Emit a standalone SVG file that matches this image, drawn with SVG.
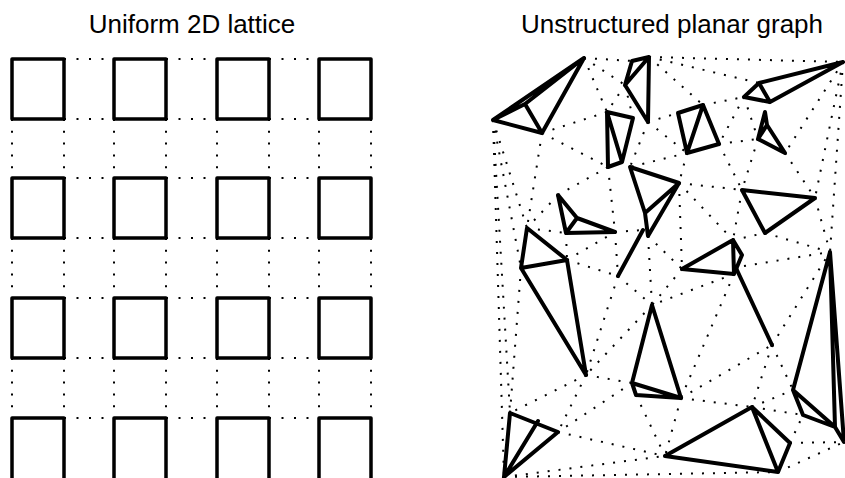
<svg xmlns="http://www.w3.org/2000/svg" width="845" height="478" viewBox="0 0 845 478">
<style>
.title{font-family:"Liberation Sans",Arial,sans-serif;font-size:26px;fill:#000;text-anchor:middle}
.sq{fill:none;stroke:#000;stroke-width:3.5;stroke-linejoin:round;stroke-linecap:round}
.ld{stroke:#000;stroke-width:2;fill:none}
.lh{stroke-dasharray:2 10.5}
.lv{stroke-dasharray:2 9.8}
.tri{fill:none;stroke:#000;stroke-width:4;stroke-linejoin:round;stroke-linecap:round}
.dot{stroke:#000;stroke-width:2;fill:none;stroke-dasharray:2 9}
</style>
<rect width="845" height="478" fill="#fff"/>
<text class="title" x="192" y="33">Uniform 2D lattice</text>
<text class="title" x="672" y="33">Unstructured planar graph</text>

<g id="lattice-connectors">
<g class="ld lh">
<line x1="64" y1="59" x2="114" y2="59"/><line x1="166" y1="59" x2="217" y2="59"/><line x1="269" y1="59" x2="319" y2="59"/>
<line x1="64" y1="119" x2="114" y2="119"/><line x1="166" y1="119" x2="217" y2="119"/><line x1="269" y1="119" x2="319" y2="119"/>
<line x1="64" y1="178" x2="114" y2="178"/><line x1="166" y1="178" x2="217" y2="178"/><line x1="269" y1="178" x2="319" y2="178"/>
<line x1="64" y1="238" x2="114" y2="238"/><line x1="166" y1="238" x2="217" y2="238"/><line x1="269" y1="238" x2="319" y2="238"/>
<line x1="64" y1="298" x2="114" y2="298"/><line x1="166" y1="298" x2="217" y2="298"/><line x1="269" y1="298" x2="319" y2="298"/>
<line x1="64" y1="358" x2="114" y2="358"/><line x1="166" y1="358" x2="217" y2="358"/><line x1="269" y1="358" x2="319" y2="358"/>
<line x1="64" y1="418" x2="114" y2="418"/><line x1="166" y1="418" x2="217" y2="418"/><line x1="269" y1="418" x2="319" y2="418"/>
</g>
<g class="ld lv">
<line x1="12" y1="119" x2="12" y2="178"/><line x1="64" y1="119" x2="64" y2="178"/><line x1="114" y1="119" x2="114" y2="178"/><line x1="166" y1="119" x2="166" y2="178"/><line x1="217" y1="119" x2="217" y2="178"/><line x1="269" y1="119" x2="269" y2="178"/><line x1="319" y1="119" x2="319" y2="178"/><line x1="371" y1="119" x2="371" y2="178"/>
<line x1="12" y1="238" x2="12" y2="298"/><line x1="64" y1="238" x2="64" y2="298"/><line x1="114" y1="238" x2="114" y2="298"/><line x1="166" y1="238" x2="166" y2="298"/><line x1="217" y1="238" x2="217" y2="298"/><line x1="269" y1="238" x2="269" y2="298"/><line x1="319" y1="238" x2="319" y2="298"/><line x1="371" y1="238" x2="371" y2="298"/>
<line x1="12" y1="358" x2="12" y2="418"/><line x1="64" y1="358" x2="64" y2="418"/><line x1="114" y1="358" x2="114" y2="418"/><line x1="166" y1="358" x2="166" y2="418"/><line x1="217" y1="358" x2="217" y2="418"/><line x1="269" y1="358" x2="269" y2="418"/><line x1="319" y1="358" x2="319" y2="418"/><line x1="371" y1="358" x2="371" y2="418"/>
</g>
</g>

<g id="sq-r1c1"><rect class="sq" x="12" y="59" width="52" height="60"/></g>
<g id="sq-r1c2"><rect class="sq" x="114" y="59" width="52" height="60"/></g>
<g id="sq-r1c3"><rect class="sq" x="217" y="59" width="52" height="60"/></g>
<g id="sq-r1c4"><rect class="sq" x="319" y="59" width="52" height="60"/></g>
<g id="sq-r2c1"><rect class="sq" x="12" y="178" width="52" height="60"/></g>
<g id="sq-r2c2"><rect class="sq" x="114" y="178" width="52" height="60"/></g>
<g id="sq-r2c3"><rect class="sq" x="217" y="178" width="52" height="60"/></g>
<g id="sq-r2c4"><rect class="sq" x="319" y="178" width="52" height="60"/></g>
<g id="sq-r3c1"><rect class="sq" x="12" y="298" width="52" height="60"/></g>
<g id="sq-r3c2"><rect class="sq" x="114" y="298" width="52" height="60"/></g>
<g id="sq-r3c3"><rect class="sq" x="217" y="298" width="52" height="60"/></g>
<g id="sq-r3c4"><rect class="sq" x="319" y="298" width="52" height="60"/></g>
<g id="sq-r4c1"><path class="sq" d="M12,482 L12,418 L64,418 L64,482"/></g>
<g id="sq-r4c2"><path class="sq" d="M114,482 L114,418 L166,418 L166,482"/></g>
<g id="sq-r4c3"><path class="sq" d="M217,482 L217,418 L269,418 L269,482"/></g>
<g id="sq-r4c4"><path class="sq" d="M319,482 L319,418 L371,418 L371,482"/></g>

<g id="graph-connectors" class="dot">
<line x1="584" y1="58" x2="632" y2="61"/>
<line x1="649" y1="57" x2="843" y2="62"/>
<line x1="584" y1="58" x2="607" y2="112"/>
<line x1="584" y1="58" x2="625" y2="85"/>
<line x1="625" y1="85" x2="607" y2="112"/>
<line x1="625" y1="85" x2="633" y2="118"/>
<line x1="542" y1="133" x2="607" y2="112"/>
<line x1="542" y1="133" x2="608" y2="167"/>
<line x1="542" y1="133" x2="527" y2="228"/>
<line x1="493" y1="120" x2="527" y2="228"/>
<line x1="493" y1="120" x2="521" y2="268"/>
<line x1="493" y1="120" x2="510" y2="413"/>
<line x1="493" y1="120" x2="504" y2="477"/>
<line x1="649" y1="57" x2="703" y2="105"/>
<line x1="649" y1="57" x2="759" y2="83"/>
<line x1="703" y1="105" x2="744" y2="97"/>
<line x1="744" y1="97" x2="719" y2="144"/>
<line x1="744" y1="97" x2="758" y2="139"/>
<line x1="719" y1="144" x2="758" y2="139"/>
<line x1="719" y1="144" x2="742" y2="190"/>
<line x1="758" y1="139" x2="742" y2="190"/>
<line x1="648" y1="122" x2="678" y2="113"/>
<line x1="648" y1="122" x2="630" y2="167"/>
<line x1="648" y1="122" x2="687" y2="153"/>
<line x1="687" y1="153" x2="630" y2="167"/>
<line x1="687" y1="153" x2="679" y2="183"/>
<line x1="770" y1="102" x2="765" y2="112"/>
<line x1="843" y1="62" x2="785" y2="153"/>
<line x1="843" y1="62" x2="815" y2="198"/>
<line x1="785" y1="153" x2="815" y2="198"/>
<line x1="843" y1="62" x2="830" y2="252"/>
<line x1="608" y1="167" x2="615" y2="232"/>
<line x1="558" y1="195" x2="608" y2="167"/>
<line x1="558" y1="195" x2="527" y2="228"/>
<line x1="527" y1="228" x2="566" y2="233"/>
<line x1="566" y1="233" x2="567" y2="260"/>
<line x1="567" y1="260" x2="615" y2="232"/>
<line x1="567" y1="260" x2="618" y2="276"/>
<line x1="615" y1="232" x2="618" y2="276"/>
<line x1="615" y1="232" x2="643" y2="230"/>
<line x1="648" y1="236" x2="652" y2="305"/>
<line x1="648" y1="236" x2="682" y2="269"/>
<line x1="618" y1="276" x2="652" y2="305"/>
<line x1="618" y1="276" x2="586" y2="375"/>
<line x1="679" y1="183" x2="742" y2="190"/>
<line x1="679" y1="183" x2="682" y2="269"/>
<line x1="679" y1="183" x2="733" y2="240"/>
<line x1="742" y1="190" x2="733" y2="240"/>
<line x1="733" y1="240" x2="765" y2="233"/>
<line x1="765" y1="233" x2="830" y2="252"/>
<line x1="815" y1="198" x2="830" y2="252"/>
<line x1="744" y1="266" x2="830" y2="252"/>
<line x1="772" y1="345" x2="830" y2="252"/>
<line x1="682" y1="269" x2="652" y2="305"/>
<line x1="734" y1="274" x2="652" y2="305"/>
<line x1="734" y1="274" x2="681" y2="398"/>
<line x1="652" y1="305" x2="586" y2="375"/>
<line x1="521" y1="268" x2="510" y2="413"/>
<line x1="586" y1="375" x2="510" y2="413"/>
<line x1="586" y1="375" x2="558" y2="432"/>
<line x1="586" y1="375" x2="632" y2="383"/>
<line x1="632" y1="383" x2="558" y2="432"/>
<line x1="558" y1="432" x2="665" y2="456"/>
<line x1="504" y1="477" x2="665" y2="456"/>
<line x1="504" y1="477" x2="778" y2="472"/>
<line x1="681" y1="398" x2="772" y2="345"/>
<line x1="681" y1="398" x2="752" y2="407"/>
<line x1="681" y1="398" x2="665" y2="456"/>
<line x1="636" y1="395" x2="665" y2="456"/>
<line x1="772" y1="345" x2="793" y2="390"/>
<line x1="772" y1="345" x2="752" y2="407"/>
<line x1="752" y1="407" x2="793" y2="390"/>
<line x1="752" y1="407" x2="803" y2="415"/>
<line x1="790" y1="443" x2="803" y2="415"/>
<line x1="790" y1="443" x2="844" y2="442"/>
<line x1="778" y1="472" x2="844" y2="442"/>
</g>

<g id="t1"><path class="tri" d="M493,120 L584,58 L542,133 Z M493,120 L525,104 L584,58 M525,104 L542,133"/></g>
<g id="t2"><path class="tri" d="M632,61 L649,57 L648,122 L625,85 Z M625,85 L649,57"/></g>
<g id="t3"><path class="tri" d="M607,112 L633,118 L622,162 L608,167 Z M607,112 L622,162"/></g>
<g id="t4"><path class="tri" d="M678,113 L703,105 L719,144 L687,153 Z M703,105 L687,153"/></g>
<g id="t5"><path class="tri" d="M843,62 L759,83 L744,97 L770,102 Z M759,83 L770,102"/></g>
<g id="t6"><path class="tri" d="M765,112 L758,139 L785,153 L767,125 Z M758,139 L767,125"/></g>
<g id="t7"><path class="tri" d="M630,167 L679,183 L648,236 L645,213 Z M645,213 L679,183"/></g>
<g id="t8"><path class="tri" d="M742,190 L815,198 L765,233 Z"/></g>
<g id="t9"><path class="tri" d="M558,195 L566,233 L615,232 L577,218 Z M577,218 L566,233"/></g>
<g id="s1"><path class="tri" d="M643,230 L618,276"/></g>
<g id="t10"><path class="tri" d="M527,228 L567,260 L586,375 L521,268 Z M521,268 L567,260"/></g>
<g id="t11"><path class="tri" d="M733,240 L682,269 L734,274 L742,255 Z M733,240 L734,274"/></g>
<g id="s2"><path class="tri" d="M736,268 L772,345"/></g>
<g id="t12"><path class="tri" d="M652,305 L632,383 L636,395 L681,398 Z M632,383 L681,398"/></g>
<g id="t13"><path class="tri" d="M510,413 L558,432 L504,477 Z M538,421 L504,477"/></g>
<g id="t14"><path class="tri" d="M665,456 L752,407 L790,443 L778,472 Z M752,407 L778,472"/></g>
<g id="t15"><path class="tri" d="M830,252 L793,390 L803,415 L835,427 Z M793,390 L835,427 M830,252 L844,442 L835,427"/></g>
</svg>
